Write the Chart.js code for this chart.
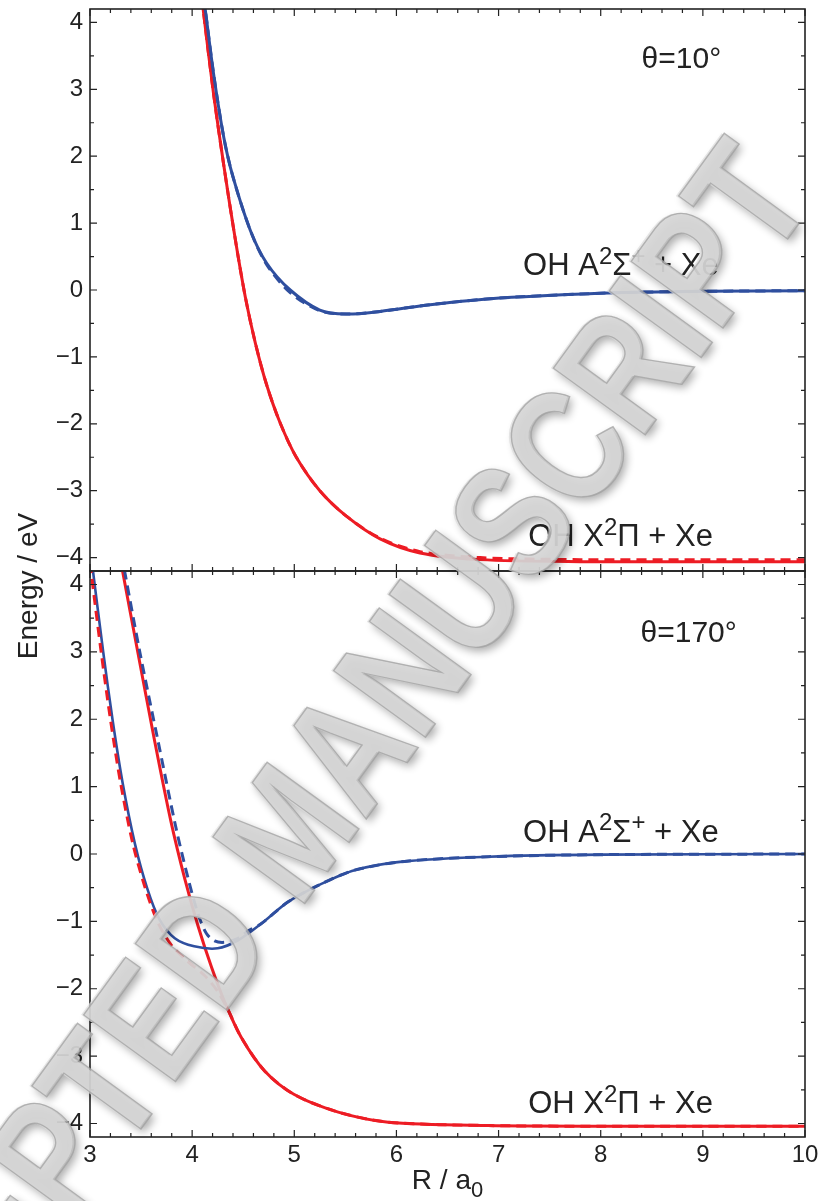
<!DOCTYPE html>
<html lang="en">
<head>
<meta charset="UTF-8">
<title>OH + Xe</title>
<script src="https://cdn.jsdelivr.net/npm/chart.js"></script>
<style>
  body { margin:0; background:#fff; width:819px; height:1201px; overflow:hidden; position:relative; }
  canvas { position:absolute; left:0; }
  #g1 { top:0; }
  #g2 { top:560px; }
  #marca { top:0; pointer-events:none; }
  #ytitulo { position:absolute; left:28px; top:586px; transform:translate(-50%,-50%) rotate(-90deg);
    font-family:"Liberation Sans", Arial, Helvetica, sans-serif; font-size:28px; color:#222; white-space:nowrap; }
</style>
</head>
<body>
<canvas id="g1" width="819" height="580"></canvas>
<canvas id="g2" width="819" height="641"></canvas>
<div id="ytitulo">Energy / eV</div>
<canvas id="marca" width="819" height="1201"></canvas>

<script>
// ticks
const ticksX = [3, 4, 5, 6, 7, 8, 9, 10]
const ticksY = [-4, -3, -2, -1, 0, 1, 2, 3, 4]

// theta = 10 deg, A state (blue) ab initio / fit
const rA10 = [4.09, 4.13, 4.21, 4.31, 4.40, 4.57, 4.73, 4.96, 5.25, 5.51, 5.84, 6.33, 7.01, 8.16, 9.00, 10.0]
const eA10 = [4.60, 4.17, 3.23, 2.28, 1.69, 0.89, 0.40, 0.00, -0.30, -0.36, -0.32, -0.22, -0.12, -0.04, -0.02, -0.01]
const eA10fit = [4.60, 4.17, 3.23, 2.28, 1.69, 0.89, 0.38, -0.04, -0.31, -0.36, -0.32, -0.22, -0.12, -0.04, -0.02, -0.01]

// theta = 10 deg, X state (red)
const rX10 = [4.08, 4.11, 4.21, 4.31, 4.42, 4.52, 4.62, 4.73, 4.86, 5.02, 5.25, 5.51, 5.84, 6.23, 6.82, 7.80, 9.00, 10.0]
const eX10 = [4.60, 4.17, 2.93, 1.86, 0.78, -0.10, -0.80, -1.42, -1.98, -2.50, -3.00, -3.38, -3.72, -3.93, -4.03, -4.06, -4.06, -4.06]
const eX10fit = [4.60, 4.17, 2.93, 1.86, 0.78, -0.10, -0.80, -1.42, -1.98, -2.50, -3.00, -3.38, -3.71, -3.91, -4.00, -4.03, -4.03, -4.03]

// theta = 170 deg, A state (blue)
const rA170 = [3.00, 3.03, 3.13, 3.22, 3.32, 3.44, 3.56, 3.68, 3.83, 4.02, 4.25, 4.45, 4.68, 4.94, 5.27, 5.59, 6.08, 6.90, 8.00, 10.0]
const eA170 = [4.55, 4.19, 2.99, 2.00, 1.05, 0.15, -0.51, -0.97, -1.25, -1.37, -1.40, -1.28, -1.03, -0.71, -0.44, -0.24, -0.11, -0.04, -0.01, 0.00]
const rA170fit = [3.31, 3.34, 3.49, 3.66, 3.84, 3.96, 4.06, 4.14, 4.22, 4.32, 4.45, 4.55, 4.68, 4.94, 5.27, 5.59, 6.08, 6.90, 8.00, 10.0]
const eA170fit = [4.45, 4.19, 2.98, 1.72, 0.40, -0.36, -0.90, -1.18, -1.29, -1.31, -1.25, -1.14, -1.03, -0.71, -0.44, -0.24, -0.11, -0.04, -0.01, 0.00]

// theta = 170 deg, X state (red)
const rX170 = [3.29, 3.32, 3.47, 3.63, 3.79, 3.93, 4.06, 4.19, 4.32, 4.48, 4.71, 5.00, 5.43, 5.92, 6.90, 8.00, 10.0]
const eX170 = [4.45, 4.19, 2.98, 1.70, 0.50, -0.38, -1.08, -1.68, -2.20, -2.72, -3.22, -3.57, -3.83, -3.98, -4.03, -4.04, -4.04]
const rX170fit = [2.98, 3.01, 3.11, 3.20, 3.30, 3.42, 3.54, 3.66, 3.80, 3.96, 4.12, 4.25, 4.36, 4.48, 4.71, 5.00, 5.43, 5.92, 6.90, 8.00, 10.0]
const eX170fit = [4.55, 4.19, 2.99, 2.00, 1.05, 0.15, -0.50, -1.00, -1.36, -1.60, -1.80, -2.04, -2.34, -2.72, -3.22, -3.57, -3.83, -3.98, -4.03, -4.04, -4.04]

const fonte = '"Liberation Sans", Arial, Helvetica, sans-serif'
const vermelho = '#ed1c24'
const azul = '#2f4f9f'
const menos = v => (v < 0 ? '\u2212' + Math.abs(v) : String(v))
const pontos = (rs, es) => rs.map((r, i) => ({x: r, y: es[i]}))

function serie(rs, es, cor, tracejado, larg) {
  return {
    data: pontos(rs, es),
    borderColor: cor,
    borderWidth: larg || 3,
    borderDash: tracejado ? [10, 6] : [],
    pointRadius: 0,
    tension: 0.3,
    fill: false,
    clip: 0,
    order: tracejado ? 0 : 1
  }
}

function escalas(mostraX) {
  return {
    x: {
      type: 'linear', min: 3, max: 10,
      afterBuildTicks: s => { s.ticks = ticksX.map(v => ({value: v})) },
      afterFit: s => { s.height = mostraX ? 64 : 0; s.paddingLeft = 0; s.paddingRight = 0 },
      grid: {display: false, drawTicks: false},
      border: {display: false},
      ticks: {display: mostraX, padding: 4, color: '#222', font: {family: fonte, size: 24}, maxRotation: 0, autoSkip: false}
    },
    y: {
      type: 'linear', min: -4.2, max: 4.2,
      afterBuildTicks: s => { s.ticks = ticksY.map(v => ({value: v})) },
      afterFit: s => { s.width = 90; s.paddingTop = 0; s.paddingBottom = 0 },
      grid: {display: false, drawTicks: false},
      border: {display: false},
      ticks: {padding: 7, color: '#222', font: {family: fonte, size: 24}, autoSkip: false, callback: v => menos(v)}
    }
  }
}

// frame with inward ticks on all four sides
const moldura = {
  id: 'moldura',
  afterDraw(chart) {
    const {ctx, chartArea: a, scales: {x, y}} = chart
    ctx.save()
    ctx.strokeStyle = '#222'
    ctx.lineWidth = 1.2
    ctx.beginPath()
    for (let v = 3; v <= 10.001; v += 0.2) {
      const px = x.getPixelForValue(v)
      const len = Math.abs(v - Math.round(v)) < 0.01 ? 7 : 4
      ctx.moveTo(px, a.bottom); ctx.lineTo(px, a.bottom - len)
      ctx.moveTo(px, a.top); ctx.lineTo(px, a.top + len)
    }
    for (let v = -4; v <= 4.001; v += 0.5) {
      const py = y.getPixelForValue(v)
      const len = Math.abs(v - Math.round(v)) < 0.01 ? 7 : 4
      ctx.moveTo(a.left, py); ctx.lineTo(a.left + len, py)
      ctx.moveTo(a.right, py); ctx.lineTo(a.right - len, py)
    }
    ctx.stroke()
    ctx.lineWidth = 1.6
    ctx.strokeRect(a.left, a.top, a.right - a.left, a.bottom - a.top)
    ctx.restore()
  }
}

// text pieces: 0 normal, 1 superscript, -1 subscript
function rotulos(itens) {
  return {
    id: 'rotulos',
    afterDraw(chart) {
      const {ctx, chartArea: a, scales: {x, y}} = chart
      ctx.save()
      ctx.fillStyle = '#222'
      ctx.textBaseline = 'alphabetic'
      ctx.textAlign = 'left'
      for (const it of itens) {
        const grande = it.tam || 31
        const pequeno = Math.round(grande * 0.78)
        let larg = 0
        for (const [t, k] of it.partes) {
          ctx.font = `${k === 0 ? grande : pequeno}px ${fonte}`
          larg += ctx.measureText(t).width
        }
        let px = x.getPixelForValue(it.x)
        if (it.centro) px -= larg / 2
        const py = it.abaixo ? a.bottom + it.abaixo : y.getPixelForValue(it.y)
        for (const [t, k] of it.partes) {
          ctx.font = `${k === 0 ? grande : pequeno}px ${fonte}`
          const dy = k === 1 ? -grande * 0.37 : k === -1 ? grande * 0.28 : 0
          ctx.fillText(t, px, py + dy)
          px += ctx.measureText(t).width
        }
      }
      ctx.restore()
    }
  }
}

const rotA = [['OH A', 0], ['2', 1], ['\u03A3', 0], ['+', 1], [' + Xe', 0]]
const rotX = [['OH X', 0], ['2', 1], ['\u03A0', 0], [' + Xe', 0]]

function opcoes(mostraX, pad) {
  return {
    responsive: false,
    animation: false,
    events: [],
    layout: {padding: pad},
    scales: escalas(mostraX),
    plugins: {legend: {display: false}, tooltip: {enabled: false}}
  }
}

new Chart(document.getElementById('g1'), {
  type: 'line',
  data: {datasets: [
    serie(rA10, eA10, azul, false),
    serie(rA10, eA10fit, azul, true),
    serie(rX10, eX10, vermelho, false),
    serie(rX10, eX10fit, vermelho, true)
  ]},
  options: opcoes(false, {left: 0, right: 14, top: 9, bottom: 9}),
  plugins: [moldura, rotulos([
    {x: 8.40, y: 3.32, tam: 30, partes: [['\u03B8=10\u00B0', 0]]},
    {x: 7.24, y: 0.22, partes: rotA},
    {x: 7.29, y: -3.83, partes: rotX}
  ])]
})

new Chart(document.getElementById('g2'), {
  type: 'line',
  data: {datasets: [
    serie(rA170, eA170, azul, false, 2.6),
    serie(rA170fit, eA170fit, azul, true),
    serie(rX170, eX170, vermelho, false),
    serie(rX170fit, eX170fit, vermelho, true)
  ]},
  options: opcoes(true, {left: 0, right: 14, top: 11, bottom: 0}),
  plugins: [moldura, rotulos([
    {x: 8.39, y: 3.14, tam: 30, partes: [['\u03B8=170\u00B0', 0]]},
    {x: 7.24, y: 0.18, partes: rotA},
    {x: 7.29, y: -3.85, partes: rotX},
    {x: 6.5, abaixo: 52, centro: true, tam: 28, partes: [['R / a', 0], ['0', -1]]}
  ])]
})

// "ACCEPTED MANUSCRIPT" watermark over the figure
const wm = document.getElementById('marca').getContext('2d')
wm.save()
wm.translate(780, 172)
wm.rotate(-54 * Math.PI / 180)
wm.scale(0.8, 1)
wm.font = `bold 165px ${fonte}`
wm.textAlign = 'right'
wm.textBaseline = 'middle'
wm.globalAlpha = 0.72
wm.shadowColor = 'rgba(0,0,0,0.45)'
wm.shadowBlur = 8
wm.shadowOffsetX = 3
wm.shadowOffsetY = 4
wm.fillStyle = '#c4c4c4'
wm.fillText('ACCEPTED MANUSCRIPT', 0, 0)
wm.shadowColor = 'transparent'
wm.fillStyle = '#dcdcdc'
wm.fillText('ACCEPTED MANUSCRIPT', -2, -2)
wm.lineWidth = 1.5
wm.strokeStyle = '#a0a0a0'
wm.strokeText('ACCEPTED MANUSCRIPT', 0, 0)
wm.restore()
</script>
</body>
</html>
